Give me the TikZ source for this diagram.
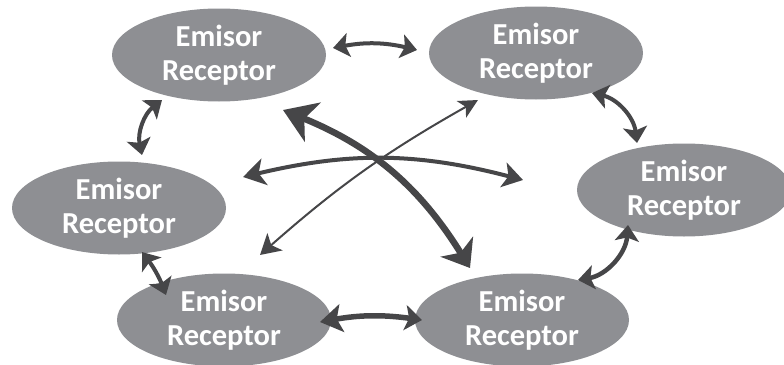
\documentclass[tikz,border=0pt]{standalone}
\usepackage{fontspec}
\setmainfont{Carlito}
\usetikzlibrary{arrows.meta,shapes.geometric,calc}
\definecolor{ellgray}{HTML}{8E8F93}
\definecolor{arrgray}{HTML}{464648}
\begin{document}
\begin{tikzpicture}[x=1pt,y=-1pt,
  er/.style={ellipse, fill=ellgray, minimum width=214pt, minimum height=93pt,
    inner sep=0pt, outer sep=0pt, text=white,
    font=\bfseries\fontsize{30.5}{34}\selectfont, align=center},
  link/.style={draw=arrgray, line width=4pt,
    arrows={Stealth[length=16pt,width=24pt,inset=3.5pt]-Stealth[length=16pt,width=24pt,inset=3.5pt]}},
]
\useasboundingbox (0,0) rectangle (784,364);
\node[er] (TL) at (219,55)  {Emisor\\Receptor};
\node[er] (TR) at (536,53)  {Emisor\\Receptor};
\node[er] (R)  at (684,190) {Emisor\\Receptor};
\node[er] (BR) at (522,320) {Emisor\\Receptor};
\node[er] (BL) at (224,320) {Emisor\\Receptor};
\node[er] (L)  at (119,208) {Emisor\\Receptor};

% perimeter
\draw[link] ($(TL)+(114,-7)$) to[bend left=12] ($(TR)+(-119,-3)$);
\draw[link] ($(TR)+(56,40)$) to[bend left=35] ($(R)+(-47,-47)$);
\draw[link, line width=4.5pt] ($(R)+(-56,35)$) to[bend left=38] ($(BR)+(56,-40)$);
\draw[link, line width=5.5pt,
  arrows={Stealth[length=22pt,width=28pt,inset=5pt]-Stealth[length=17pt,width=25pt,inset=4pt]}]
  ($(BL)+(96,2)$) to[bend left=9] ($(BR)+(-100,0)$);
\draw[link] ($(L)+(23,44)$) to[bend left=8] ($(BL)+(-58,-25)$);
\draw[link] ($(L)+(23,-53)$) to[bend left=32] ($(TL)+(-57,45)$);

% crossing
\draw[link, line width=6.5pt,
  arrows={Stealth[length=32pt,width=42pt,inset=9pt]-Stealth[length=25pt,width=38pt,inset=7pt]}]
  ($(TL)+(64,55)$) to[bend left=18] ($(BR)+(-52,-52)$);
\draw[link, line width=2pt,
  arrows={Stealth[length=19pt,width=19pt,inset=5pt]-Stealth[length=20pt,width=23pt,inset=5pt]}]
  ($(TR)+(-58,47)$) to[bend right=6] ($(BL)+(36,-65)$);
\draw[link, line width=4pt,
  arrows={Stealth[length=22pt,width=27pt,inset=6pt]-Stealth[length=20pt,width=25pt,inset=5pt]}]
  ($(L)+(124,-31)$) to[bend left=14] ($(R)+(-161,-10)$);
\end{tikzpicture}
\end{document}
